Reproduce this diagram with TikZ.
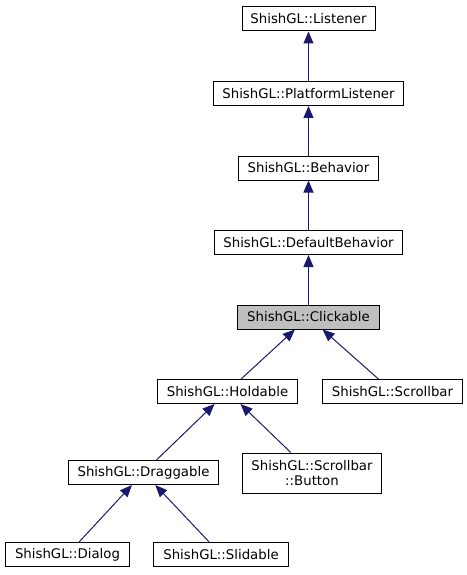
\documentclass[tikz,border=0pt]{standalone}
\usepackage{fontspec}
\setmainfont{DejaVu Sans}
\usepackage{xcolor}
\usepackage{tikz}
\usetikzlibrary{arrows.meta, positioning}
\definecolor{edgeblue}{HTML}{191970}
\definecolor{focusgray}{HTML}{BFBFBF}
\tikzstyle{cls} = [rectangle, draw, fill=white, line width=1pt, minimum height=24pt, inner sep=0pt, align=center, font=\fontsize{13.3}{15.5}\selectfont]
\tikzstyle{arrow} = [line width=1pt, draw=edgeblue, <-, >={Triangle[length=12pt,width=10pt]}]

\begin{document}
\begin{tikzpicture}[x=1pt, y=1pt, node distance=49.5pt]
\useasboundingbox (0,0) rectangle (466,-575);

\node[cls, minimum width=133pt] (listener) at (308.5,-19) {ShishGL::Listener};

\node[cls, minimum width=190pt, below=of listener] (platform) {ShishGL::PlatformListener};

\node[cls, minimum width=140pt, below=of platform] (behavior) {ShishGL::Behavior};

\node[cls, minimum width=188pt, below=of behavior] (default) {ShishGL::DefaultBehavior};

\node[cls, fill=focusgray, minimum width=142pt, below=of default] (clickable) {ShishGL::Clickable};

\node[cls, minimum width=140pt, below=of clickable, xshift=-81pt] (holdable) {ShishGL::Holdable};

\node[cls, minimum width=140pt, below=of clickable, xshift=84pt] (scrollbar) {ShishGL::Scrollbar};

\node[cls, minimum width=150pt, below=56pt of holdable, xshift=-84pt] (draggable) {ShishGL::Draggable};

\node[cls, minimum width=139pt, minimum height=40pt, below=48.5pt of holdable, xshift=84.5pt] (button) {ShishGL::Scrollbar\\::Button};

\node[cls, minimum width=124pt, below=57pt of draggable, xshift=-76pt] (dialog) {ShishGL::Dialog};

\node[cls, minimum width=135pt, below=57pt of draggable, xshift=77.5pt] (slidable) {ShishGL::Slidable};

    \draw[arrow] (listener) -- (platform);
    \draw[arrow] (platform) -- (behavior);
    \draw[arrow] (behavior) -- (default);
    \draw[arrow] (default) -- (clickable);
    \draw[arrow] (clickable) -- (holdable);
    \draw[arrow] (clickable) -- (scrollbar);
    \draw[arrow] (holdable) -- (draggable);
    \draw[arrow] (holdable) -- (button);
    \draw[arrow] (draggable) -- (dialog);
    \draw[arrow] (draggable) -- (slidable);
\end{tikzpicture}
\end{document}
